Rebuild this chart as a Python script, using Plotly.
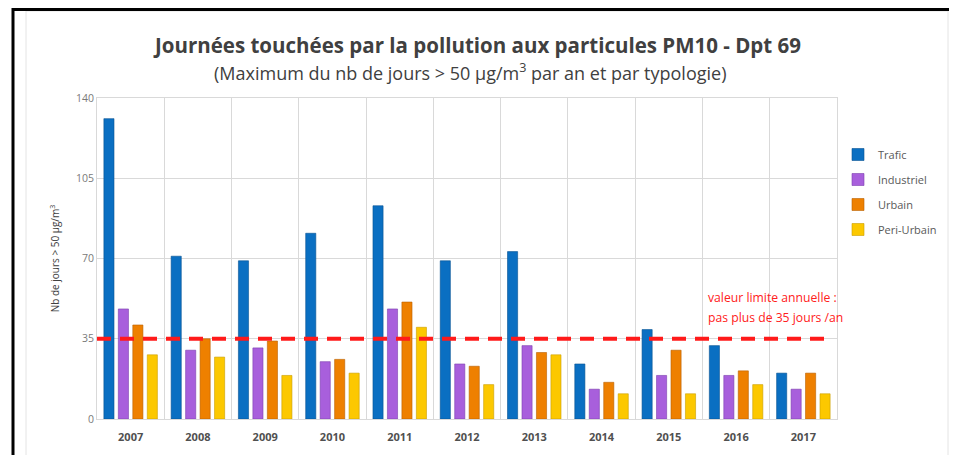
import plotly.graph_objects as go

years = ["2007", "2008", "2009", "2010", "2011", "2012", "2013", "2014", "2015", "2016", "2017"]
trafic = [131, 71, 69, 81, 93, 69, 73, 24, 39, 32, 20]
industriel = [48, 30, 31, 25, 48, 24, 32, 13, 19, 19, 13]
urbain = [41, 35, 34, 26, 51, 23, 29, 16, 30, 21, 20]
peri_urbain = [28, 27, 19, 20, 40, 15, 28, 11, 11, 15, 11]
series_names = ["Trafic", "Industriel", "Urbain", "Peri-Urbain"]
series_colors = ["#0a6fc2", "#a85fdc", "#ee8000", "#fcc800"]
edge_colors = ["#075292", "#7c3fae", "#b85f00", "#c99e00"]
limit_value = 35
y_ticks = [0, 35, 70, 105, 140]
limit_text = ["valeur limite annuelle :", "pas plus de 35 jours /an"]

# page body has an 8px margin: figure origin sits at screen (8, 8)
OX, OY = 8, 8
L, T, PW, PH = 97 - OX, 98 - OY, 740, 321


def px(x):
    return (x - OX - L) / PW


def py(y):
    return (T + PH - (y - OY)) / PH


fig = go.Figure()
for i, (name, vals, col, edge) in enumerate(zip(series_names, [trafic, industriel, urbain, peri_urbain],
                                                series_colors, edge_colors)):
    fig.add_trace(go.Bar(x=years, y=vals, name=name, legendgroup=name,
                         marker=dict(color=col, line=dict(color=edge, width=0.6))))

fig.add_shape(type="line", xref="paper", yref="y", x0=0, x1=0.99, y0=limit_value, y1=limit_value,
              line=dict(color="#ff1a1a", width=4, dash="14px,9px"))

# outer decorations
fig.add_shape(type="rect", xref="paper", yref="paper", x0=px(26), x1=px(948),
              y0=py(480), y1=py(11), line=dict(color="#e4e4e4", width=1), layer="below")
fig.add_shape(type="line", xref="paper", yref="paper", x0=px(13), x1=px(13),
              y0=py(480), y1=py(8), line=dict(color="black", width=3))
fig.add_shape(type="line", xref="paper", yref="paper", x0=px(12), x1=px(980),
              y0=py(9.5), y1=py(9.5), line=dict(color="black", width=3))

for line_text, yy in zip(limit_text, [297, 317]):
    fig.add_annotation(xref="paper", yref="paper", x=px(706), y=py(yy),
                       xanchor="left", yanchor="middle", align="left", showarrow=False,
                       text=line_text,
                       font=dict(family="Open Sans", size=12.2, color="#ff2020"))

fig.add_annotation(xref="paper", yref="paper", x=px(477), y=py(45),
                   xanchor="center", yanchor="middle", showarrow=False,
                   text="<b>Journées touchées par la pollution aux particules PM10 - Dpt 69</b>",
                   font=dict(family="Open Sans", size=20.5, color="#404040"))
fig.add_annotation(xref="paper", yref="paper", x=px(470), y=py(72),
                   xanchor="center", yanchor="middle", showarrow=False,
                   text="(Maximum du nb de jours > 50 µg/m<sup>3</sup> par an et par typologie)",
                   font=dict(family="Open Sans", size=18, color="#404040"))

fig.update_layout(
    width=957 - OX, height=455 - OY,
    margin=dict(l=L, r=957 - OX - L - PW, t=T, b=455 - OY - T - PH),
    paper_bgcolor="white", plot_bgcolor="white",
    barmode="group", bargap=0.14, bargroupgap=0.3,
    font=dict(family="Open Sans", color="#595959"),
    showlegend=True,
    legend=dict(x=px(838), y=py(140), xanchor="left", yanchor="top",
                font=dict(size=11, color="#595959"), tracegroupgap=6, itemwidth=30,
                bgcolor="rgba(0,0,0,0)"),
    xaxis=dict(type="category", tickson="boundaries", showgrid=True, gridcolor="#d9d9d9",
               ticks="", tickfont=dict(size=11, color="#505050", family="Open Sans", weight="bold"),
               showline=True, linecolor="#d9d9d9", mirror=True, ticklabelstandoff=8),
    yaxis=dict(range=[0, 140], tickvals=y_ticks, showgrid=True, gridcolor="#d9d9d9",
               tickfont=dict(size=10.5, color="#7a7a7a"), zeroline=False, ticks="",
               showline=True, linecolor="#d9d9d9", mirror=True,
               title=dict(text="Nb de jours > 50 µg/m<sup>3</sup>", font=dict(size=10, color="#404040"), standoff=14)),
)

fig.write_html("out.html")
